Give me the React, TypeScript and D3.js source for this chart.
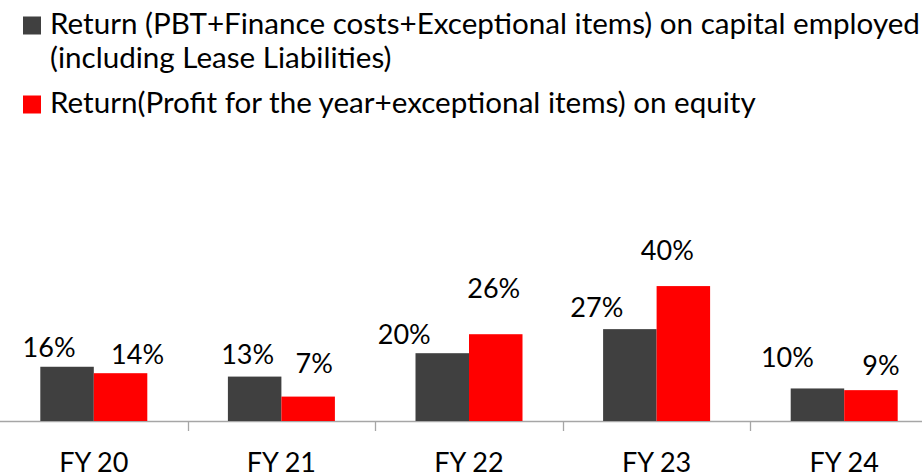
import React, { useEffect, useRef } from 'react';
import * as d3 from 'd3';

const categories = ['FY 20', 'FY 21', 'FY 22', 'FY 23', 'FY 24'];
const capitalReturn = [16, 13.1, 20, 27.1, 9.6];
const equityReturn = [14.1, 7.2, 25.6, 39.8, 9.1];
const legendLabels = [
    ['Return (PBT+Finance costs+Exceptional items) on capital employed', '(including Lease Liabilities)'],
    ['Return(Profit for the year+exceptional items) on equity'],
];

// labels were dragged around by hand in the original, so nudge them
const capitalNudge = [[-18, -1], [-7, -4], [-38, 0], [-33, -3], [-30, -12]];
const equityNudge = [[17, 0], [6, -15], [-2, -27], [-16, -17], [10, -6]];

const colors = ['#404040', '#ff0000'];
const font = 'Lato, "Open Sans", sans-serif';

const width = 922;
const height = 474;

const App = () => {
    const ref = useRef(null);

    useEffect(() => {
        document.body.style.margin = '0';
        const svg = d3.select(ref.current);
        svg.selectAll('*').remove();

        const baseline = 421;
        const x = d3.scaleBand().domain(categories).range([0, 938]);
        const y = d3.scaleLinear().domain([0, 40]).range([baseline, baseline - 135.6]);
        const groupW = 107;
        const inner = d3.scaleBand().domain(['cap', 'eq']).range([0, groupW]);

        // legend
        const legend = svg.append('g').attr('class', 'legend');
        const entryY = [34, 113];
        legendLabels.forEach((lines, i) => {
            legend.append('rect')
                .attr('x', 23).attr('y', entryY[i] - 17.5)
                .attr('width', 18).attr('height', 18)
                .attr('fill', colors[i]);
            lines.forEach((t, j) => {
                legend.append('text')
                    .attr('x', 50).attr('y', entryY[i] + j * 34)
                    .attr('font-family', font).attr('font-size', 29.6)
                    .attr('fill', '#000')
                    .text(t);
            });
        });

        // axis line + ticks
        const axis = svg.append('g').attr('class', 'axis');
        axis.append('line')
            .attr('x1', 0).attr('x2', width)
            .attr('y1', baseline + 0.5).attr('y2', baseline + 0.5)
            .attr('stroke', '#a6a6a6').attr('stroke-width', 1.3);
        axis.selectAll('.tick')
            .data(categories.slice(1))
            .enter().append('line')
            .attr('x1', d => Math.round(x(d)) + 0.5)
            .attr('x2', d => Math.round(x(d)) + 0.5)
            .attr('y1', baseline).attr('y2', baseline + 10)
            .attr('stroke', '#a6a6a6').attr('stroke-width', 1.3);
        axis.selectAll('.cat')
            .data(categories)
            .enter().append('text')
            .attr('x', d => x(d) + x.bandwidth() / 2)
            .attr('y', 472)
            .attr('text-anchor', 'middle')
            .attr('font-family', font).attr('font-size', 27)
            .text(d => d);

        const series = [
            { key: 'cap', values: capitalReturn, nudge: capitalNudge, color: colors[0] },
            { key: 'eq', values: equityReturn, nudge: equityNudge, color: colors[1] },
        ];

        series.forEach(s => {
            const g = svg.append('g').attr('class', 'series-' + s.key);
            const left = (i) => x(categories[i]) + (x.bandwidth() - groupW) / 2 + inner(s.key);
            g.selectAll('rect')
                .data(s.values)
                .enter().append('rect')
                .attr('x', (d, i) => left(i))
                .attr('y', d => y(d))
                .attr('width', inner.bandwidth())
                .attr('height', d => baseline - y(d))
                .attr('fill', s.color);
            g.selectAll('text')
                .data(s.values)
                .enter().append('text')
                .attr('x', (d, i) => left(i) + inner.bandwidth() / 2 + s.nudge[i][0])
                .attr('y', (d, i) => y(d) - 9 + s.nudge[i][1])
                .attr('text-anchor', 'middle')
                .attr('font-family', font).attr('font-size', 27)
                .text(d => Math.round(d) + '%');
        });
    }, []);

    return (
        <svg ref={ref} width={width} height={height}
            style={{ position: 'absolute', left: 0, top: 0, background: '#fff' }} />
    );
};

export default App;
